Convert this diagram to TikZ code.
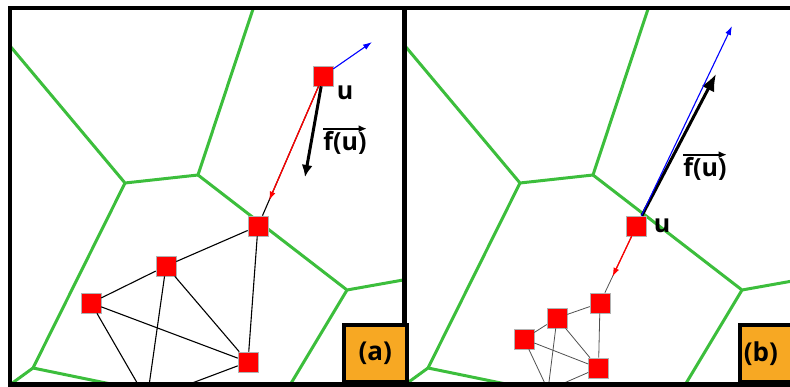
\documentclass[tikz,border=0pt]{standalone}
\usepackage{fontspec}
\setsansfont{Open Sans}
\usetikzlibrary{arrows.meta,positioning,calc}
\definecolor{cellgreen}{RGB}{60,190,60}
\definecolor{tagorange}{RGB}{247,168,35}
\definecolor{edgegray}{RGB}{80,80,80}

\begin{document}
\begin{tikzpicture}[x=1pt,y=-1pt,>=Latex,
  vertex/.style={draw=gray!60,line width=0.6pt,fill=red,minimum size=20pt,inner sep=0pt},
  cell/.style={draw=cellgreen,line width=3pt,line join=round},
  frame/.style={line width=4.5pt},
  link/.style={line width=1.1pt},
  thinlink/.style={draw=edgegray,line width=0.8pt},
  lbl/.style={font=\sffamily\bfseries\fontsize{25}{27}\selectfont,inner sep=0pt,anchor=base},
  overarrow/.style={line width=1.8pt,-{Latex[length=8pt,width=7pt]}},
  tag/.style={draw,line width=4.5pt,fill=tagorange,minimum height=57pt,inner sep=4pt,
    font=\sffamily\bfseries\fontsize{26}{28}\selectfont}]
\useasboundingbox (0,0) rectangle (790,387);

% voronoi cells, same in both panels
\foreach \dx/\xa/\xb in {0/10/404.5,395/404.5/800}{
  \begin{scope}
    \clip (\xa,8) rectangle (\xb,384.5);
    \begin{scope}[xshift=\dx pt]
      \draw[cell] (256,0) -- (198,175) -- (125,183) -- (0,34);
      \draw[cell] (198,175) -- (347,290) -- (420,277);
      \draw[cell] (347,290) -- (284,395);
      \draw[cell] (125,183) -- (33,368) -- (0,392);
      \draw[cell] (33,368) -- (140,390);
    \end{scope}
  \end{scope}
}

% panel (a)
\node[vertex] (ua) at (323,76) {};
\node[vertex] (a1) at (258,226) {};
\node[vertex] (a2) at (166,266) {};
\node[vertex] (a3) at (91,303) {};
\node[vertex] (a4) at (248,362) {};
\coordinate (a5) at (147,400);
\foreach \p/\q in {a1/a2,a1/a4,a2/a3,a2/a4,a3/a4,a2/a5,a3/a5,a4/a5,ua/a1}
  \draw[link] (\p) -- (\q);
\coordinate (ra) at ($(ua)!0.83!(a1)$);
\coordinate (ba) at (372,42);
\coordinate (fa) at (305,177);
\draw[red,line width=1.3pt,-{Latex[length=9pt,width=6pt]}] (ua) -- (ra);
\draw[line width=3pt,-{Latex[length=12pt,width=11pt]}] (ua) -- (fa);
\draw[blue,line width=1.1pt,-{Latex[length=9pt,width=6pt]}] (ua) -- (ba);
\node[lbl] (lua) at (345,100) {u};
\node[lbl] (lfa) at (345,151) {f(u)};
\draw[overarrow] ([yshift=3pt]lfa.north west) -- ([yshift=3pt]lfa.north east);

% panel (b)
\node[vertex] (ub) at (636.5,226) {};
\node[vertex] (b1) at (600,303) {};
\node[vertex] (b2) at (557,318) {};
\node[vertex] (b3) at (524,339) {};
\node[vertex] (b4) at (598.5,368) {};
\coordinate (b5) at (548,390);
\foreach \p/\q in {b1/b2,b1/b4,b2/b3,b2/b4,b3/b4,b2/b5,b3/b5,b4/b5,ub/b1}
  \draw[thinlink] (\p) -- (\q);
\coordinate (rb) at ($(ub)!0.66!(b1)$);
\coordinate (bb) at (732,26);
\coordinate (fb) at (716,74);
\draw[red,line width=1.3pt,-{Latex[length=9pt,width=6pt]}] (ub) -- (rb);
\draw[line width=3pt,-{Latex[length=17pt,width=14pt]}] (ub) -- (fb);
\draw[blue,line width=1.1pt,-{Latex[length=9pt,width=6pt]}] (ub) -- (bb);
\node[lbl] (lub) at (662,233) {u};
\node[lbl] (lfb) at (705,177) {f(u)};
\draw[overarrow] ([yshift=3pt]lfb.north west) -- ([yshift=3pt]lfb.north east);

% frames and tags
\draw[frame] (10,8) rectangle (800,384.5);
\draw[frame] (404.5,8) -- (404.5,384.5);
\node[tag,minimum width=63pt,anchor=south west] (taga) at (341.5,384.5) {(a)};
\node[tag,text width=52pt,align=left,anchor=south west] (tagb) at (737.5,384.5) {(b)};
\end{tikzpicture}
\end{document}
